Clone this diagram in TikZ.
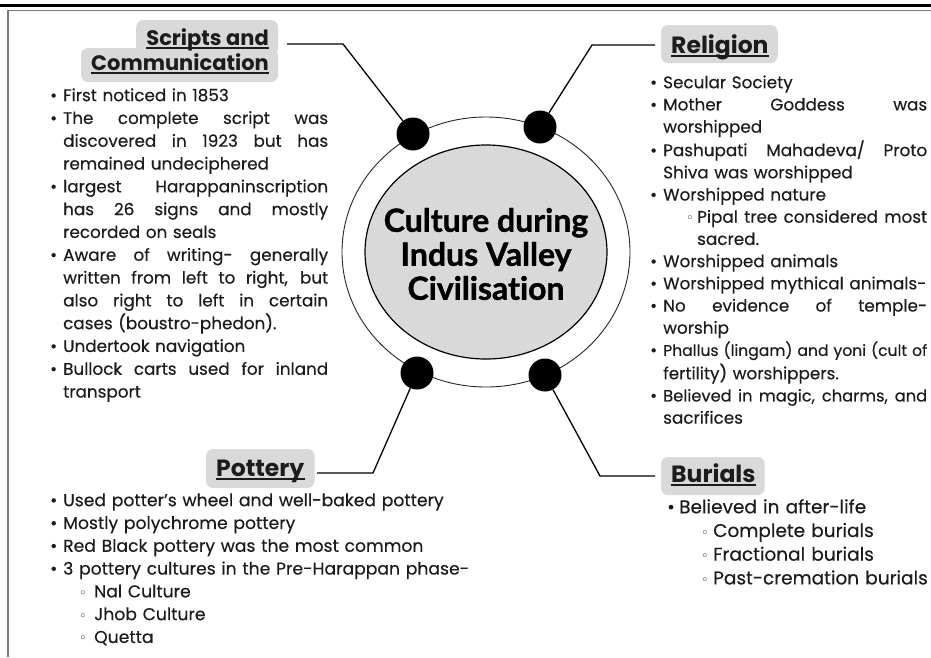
\documentclass[tikz,border=0pt]{standalone}
\usepackage{fontspec}
\setmainfont{Poppins}
\newfontfamily\bodyfont{Poppins}[FakeBold=0.35]
\newfontfamily\titlefont{Lato}[Ligatures=NoCommon, BoldFeatures={FakeBold=1.2}]
\newfontfamily\symfont{DejaVu Sans}
\usetikzlibrary{shapes.geometric,backgrounds,calc}

\definecolor{panelgray}{HTML}{D9D9D9}
\definecolor{ink}{HTML}{1C1C1C}
\definecolor{framegray}{HTML}{7A7A7A}

% list geometry: line width, bullet column, sub-bullet position, sub-text position
\newlength\listw
\newlength\bulw
\newlength\subi
\newlength\subt
\newcommand\hollow{{\symfont\fontsize{13}{13}\selectfont ◦}}
% a justified line: interword glue taken from the font so it can stretch
\newcommand\JLine[2]{\makebox[#1][s]{\spaceskip=0pt\xspaceskip=0pt #2}}
\newcommand\ItemJ[1]{\strut\makebox[\bulw][l]{•}\JLine{\dimexpr\listw-\bulw\relax}{#1}}
\newcommand\ItemN[1]{\strut\makebox[\bulw][l]{•}#1}
\newcommand\ContJ[1]{\strut\hspace*{\bulw}\JLine{\dimexpr\listw-\bulw\relax}{#1}}
\newcommand\ContN[1]{\strut\hspace*{\bulw}#1}
\newcommand\SubJ[1]{\strut\hspace*{\subi}\makebox[\dimexpr\subt-\subi\relax][l]{\hollow}\JLine{\dimexpr\listw-\subt\relax}{#1}}
\newcommand\SubN[1]{\strut\hspace*{\subi}\makebox[\dimexpr\subt-\subi\relax][l]{\hollow}#1}
\newcommand\SubCont[1]{\strut\hspace*{\subt}#1}

\begin{document}
\begin{tikzpicture}[x=1pt,y=-1pt,
  heading/.style={font=\fontsize{23.5}{27}\selectfont\bfseries, inner sep=0pt, text=ink},
  uline/.style={line width=1.7pt, draw=ink},
  headbox/.style={fill=panelgray, rounded corners=7pt},
  dot/.style={circle, fill=black, minimum size=33pt, inner sep=0pt},
  conn/.style={line width=1.3pt, draw=black},
  list/.style={anchor=north west, inner sep=0pt, align=left, text=ink},
]
\useasboundingbox (0,0) rectangle (931,657);

% page frame
\draw[line width=3pt] (0,5) -- (931,5);
\draw[framegray, line width=1.3pt] (931,10.5) -- (8,10.5) -- (8,657);

% central hub
\draw[line width=0.9pt, black!85] (486,252) ellipse [x radius=144pt, y radius=135pt];
\node[ellipse, draw=black, line width=1.2pt, fill=panelgray,
      minimum width=242pt, minimum height=214pt, inner sep=0pt] (core) at (486,252) {};
\node[align=center, inner sep=0pt, text=black,
      font=\titlefont\bfseries\fontsize{32}{34}\selectfont]
  (title) at ([yshift=-2pt]core.center) {Culture during\\Indus Valley\\Civilisation};

% headings
\node[heading, anchor=base east, font=\fontsize{21}{25}\selectfont\bfseries] (scr1) at (269,45) {Scripts and};
\node[heading, anchor=base east, font=\fontsize{21}{25}\selectfont\bfseries] (scr2) at (269,70) {Communication};
\node[heading, anchor=base west] (rel) at (671,53) {Religion};
\node[heading, anchor=base west] (pot) at (216,476) {Pottery};
\node[heading, anchor=base west] (bur) at (671,482) {Burials};

\begin{scope}[on background layer]
  \fill[headbox] ($(scr1.base west)+(-10,-25)$) rectangle ($(scr1.base east)+(9,10)$);
  \fill[headbox] ($(scr2.base west)+(-10,-22)$) rectangle ($(scr2.base east)+(9,12)$);
  \fill[headbox] ($(rel.base west)+(-10,-28)$) rectangle ($(rel.base east)+(9,10)$);
  \fill[headbox] ($(pot.base west)+(-10,-27)$) rectangle ($(pot.base east)+(10,12)$);
  \fill[headbox] ($(bur.base west)+(-10,-25)$) rectangle ($(bur.base east)+(9,13)$);
\end{scope}

\foreach \h in {scr1,scr2,rel,pot,bur}
  \draw[uline] ([yshift=-3pt]\h.base west) -- ([yshift=-3pt]\h.base east);

% hub dots and connectors
\node[dot] (dTL) at (413,134) {};
\node[dot] (dTR) at (540,127) {};
\node[dot] (dBL) at (417,373) {};
\node[dot] (dBR) at (545,375) {};

\coordinate (kTL) at (343,44);  \coordinate (eTL) at (287,44);
\coordinate (kTR) at (592,45);  \coordinate (eTR) at (655,45);
\coordinate (kBL) at (373,473); \coordinate (eBL) at (317,473);
\coordinate (kBR) at (600,476); \coordinate (eBR) at (655,476);

\draw[conn] (dTL) -- (kTL) -- (eTL);
\draw[conn] (dTR) -- (kTR) -- (eTR);
\draw[conn] (dBL) -- (kBL) -- (eBL);
\draw[conn] (dBR) -- (kBR) -- (eBR);

% Scripts and Communication
\node[list, text width=278pt,
      font=\bodyfont\fontsize{16.8}{22.8}\selectfont\setlength\listw{278pt}\setlength\bulw{13pt}] (lscr) at (50,85) {%
\ItemN{First noticed in 1853}\\
\ItemJ{The complete script was}\\
\ContJ{discovered in 1923 but has}\\
\ContN{remained undeciphered}\\
\ItemJ{largest Harappaninscription}\\
\ContJ{has 26 signs and mostly}\\
\ContN{recorded on seals}\\
\ItemJ{Aware of writing- generally}\\
\ContJ{written from left to right, but}\\
\ContJ{also right to left in certain}\\
\ContN{cases (boustro-phedon).}\\
\ItemN{Undertook navigation}\\
\ItemJ{Bullock carts used for inland}\\
\ContN{transport}};

% Religion
\node[list, text width=277pt,
      font=\bodyfont\fontsize{16.8}{22.2}\selectfont\setlength\listw{277pt}\setlength\bulw{13pt}\setlength\subi{36pt}\setlength\subt{47pt}] (lrel) at (650,72.5) {%
\ItemN{Secular Society}\\
\ItemJ{Mother Goddess was}\\
\ContN{worshipped}\\
\ItemJ{Pashupati Mahadeva/ Proto}\\
\ContN{Shiva was worshipped}\\
\ItemN{Worshipped nature}\\
\SubJ{Pipal tree considered most}\\
\SubCont{sacred.}\\
\ItemN{Worshipped animals}\\
\ItemN{Worshipped mythical animals-}\\
\ItemJ{No evidence of temple-}\\
\ContN{worship}\\
\ItemJ{\fontsize{15.6}{22.2}\selectfont Phallus (lingam) and yoni (cult of}\\
\ContN{fertility) worshippers.}\\
\ItemJ{\fontsize{16.3}{22.2}\selectfont Believed in magic, charms, and}\\
\ContN{sacrifices}};

% Pottery
\node[list, text width=460pt,
      font=\bodyfont\fontsize{17.2}{22.8}\selectfont\setlength\listw{460pt}\setlength\bulw{13pt}\setlength\subi{29pt}\setlength\subt{44pt}] (lpot) at (50,490) {%
\ItemN{Used potter’s wheel and well-baked pottery}\\
\ItemN{Mostly polychrome pottery}\\
\ItemN{Red Black pottery was the most common}\\
\ItemN{3 pottery cultures in the Pre-Harappan phase-}\\
\SubN{Nal Culture}\\
\SubN{Jhob Culture}\\
\SubN{Quetta}};

% Burials
\node[list, text width=262pt,
      font=\bodyfont\fontsize{18.5}{23.7}\selectfont\setlength\listw{262pt}\setlength\bulw{12pt}\setlength\subi{34pt}\setlength\subt{46pt}] (lbur) at (667,496.5) {%
\ItemN{Believed in after-life}\\
\SubN{Complete burials}\\
\SubN{Fractional burials}\\
\SubN{Past-cremation burials}};
\end{tikzpicture}
\end{document}
